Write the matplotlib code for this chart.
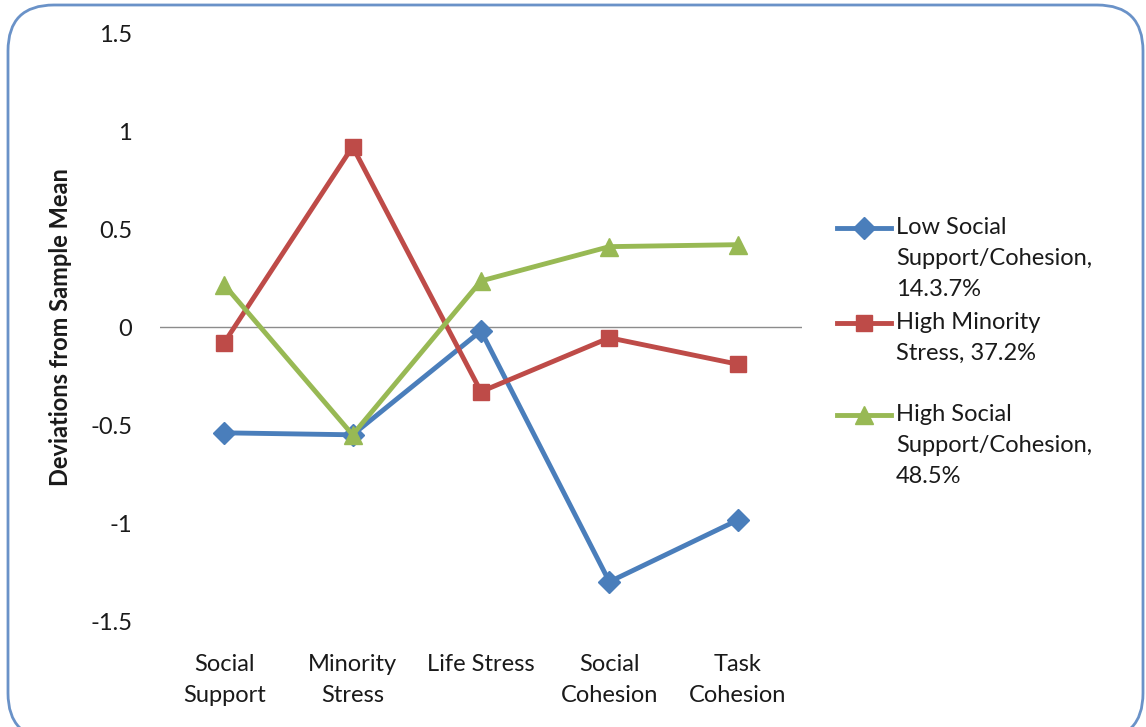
import matplotlib
matplotlib.use("Agg")
import matplotlib.pyplot as plt
from matplotlib.lines import Line2D
from matplotlib.patches import FancyBboxPatch

categories = ["Social\nSupport", "Minority\nStress", "Life Stress", "Social\nCohesion", "Task\nCohesion"]
low_support = [-0.54, -0.55, -0.02, -1.30, -0.985]
high_minority = [-0.08, 0.92, -0.33, -0.055, -0.19]
high_support = [0.215, -0.55, 0.235, 0.41, 0.42]
series_labels = ["Low Social\nSupport/Cohesion,\n14.3.7%",
                 "High Minority\nStress, 37.2%",
                 "High Social\nSupport/Cohesion,\n48.5%"]
yticks = [-1.5, -1, -0.5, 0, 0.5, 1, 1.5]
ytick_labels = ["-1.5", "-1", "-0.5", "0", "0.5", "1", "1.5"]

plt.rcParams['font.family'] = ['Lato', 'DejaVu Sans']
TXT = "#1a1a1a"
FS = 17

fig = plt.figure(figsize=(11.46, 7.27), dpi=100)
W, H = 1146, 727

# rounded border (bottom edge runs just past the image)
border = FancyBboxPatch((8 / W, -12 / H), (1143 - 8) / W, (727 - 5 + 12) / H,
                        boxstyle="round,pad=0,rounding_size=0.04",
                        transform=fig.transFigure, facecolor="none",
                        edgecolor="#6A92C8", linewidth=2, zorder=-1,
                        mutation_aspect=W / H)
fig.patches.append(border)

ax = fig.add_axes([160 / W, (727 - 621) / H, 642 / W, 588 / H])
ax.set_facecolor("none")
x = list(range(len(categories)))

styles = [
    (low_support, "#4A7EBB", "D", 11),
    (high_minority, "#BE4B48", "s", 12),
    (high_support, "#98B954", "^", 13),
]
for vals, col, mk, ms in styles:
    ax.plot(x, vals, color=col, linewidth=3.5, marker=mk, markersize=ms,
            markerfacecolor=col, markeredgecolor=col, zorder=3, clip_on=False)

ax.axhline(0, color="#8c8c8c", linewidth=1, zorder=1)
ax.set_xlim(-0.5, 4.5)
ax.set_ylim(-1.5, 1.5)
ax.set_yticks(yticks)
ax.set_yticklabels(ytick_labels)
ax.set_xticks(x)
ax.set_xticklabels(categories, linespacing=1.55)
ax.tick_params(axis="both", length=0, labelsize=FS, colors=TXT)
ax.tick_params(axis="y", pad=20)
ax.tick_params(axis="x", pad=24)
for s in ax.spines.values():
    s.set_visible(False)

ax.set_ylabel("Deviations from Sample Mean", fontsize=FS, fontweight="bold",
              color=TXT, labelpad=13)

# manual legend
entries_y = [228, 323, 415]
for (vals, col, mk, ms), lab, yy in zip(styles, series_labels, entries_y):
    fy = 1 - yy / H
    fig.add_artist(Line2D([837 / W, 891 / W], [fy, fy], transform=fig.transFigure,
                          color=col, linewidth=3.5))
    fig.add_artist(Line2D([864 / W], [fy], transform=fig.transFigure,
                          color=col, marker=mk, markersize=ms, linewidth=0))
    fig.text(896 / W, fy + 11 / H, lab, fontsize=FS, color=TXT, va="top", ha="left",
             linespacing=1.6)

fig.savefig("out.png", dpi=100)
